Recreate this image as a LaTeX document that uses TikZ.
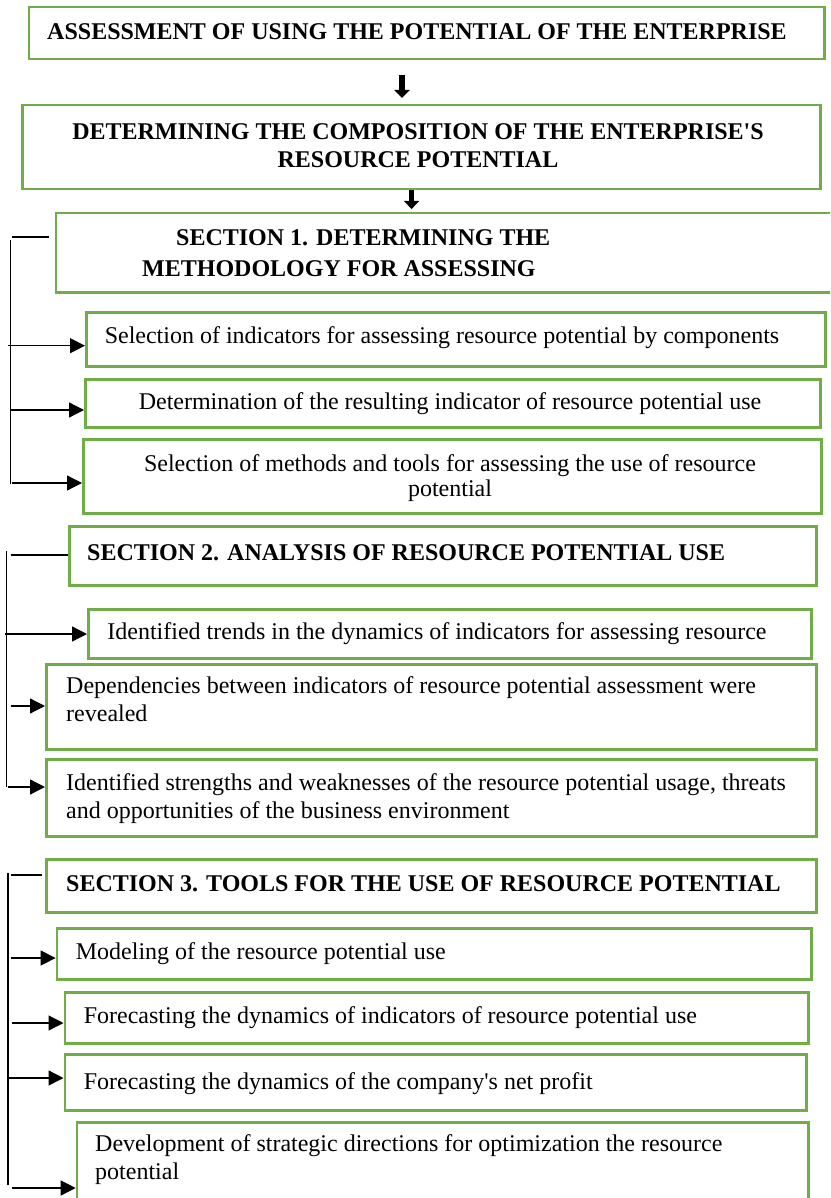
\documentclass[tikz,border=0pt]{standalone}
\usepackage{fontspec}
\setmainfont{Liberation Serif}
\usetikzlibrary{arrows.meta}
\definecolor{boxgreen}{HTML}{70AD47}
\begin{document}
\begin{tikzpicture}[x=1pt,y=-1pt,
  gbox/.style={draw=boxgreen,line width=2.5pt,anchor=north west,inner sep=0pt},
  txt/.style={inner sep=0pt,font=\fontsize{24}{27.5}\selectfont},
  head/.style={inner sep=0pt,font=\fontsize{24}{28}\selectfont\bfseries},
  harr/.style={-{Triangle[length=15pt,width=15pt]},line width=1.3pt},
  varr/.style={-{Triangle[length=8pt,width=15pt]},line width=5.5pt},
  brk/.style={line width=1.3pt}]
\useasboundingbox (0,0) rectangle (830,1198);
\clip (0,0) rectangle (830,1198);

% frames
\node[gbox,minimum width=795.5pt,minimum height=52pt] (a) at (27.5,6) {};
\node[gbox,minimum width=798pt,minimum height=84pt] (b) at (21,104) {};
\node[gbox,minimum width=790pt,minimum height=79pt] (s1) at (54.5,212) {};
\node[gbox,minimum width=739pt,minimum height=54pt] (s1a) at (85,311) {};
\node[gbox,minimum width=735pt,minimum height=48pt] (s1b) at (84,378) {};
\node[gbox,minimum width=738pt,minimum height=74pt] (s1c) at (82,438) {};
\node[gbox,minimum width=747pt,minimum height=59pt] (s2) at (68,525) {};
\node[gbox,minimum width=723pt,minimum height=49pt] (s2a) at (87,608) {};
\node[gbox,minimum width=770pt,minimum height=85pt] (s2b) at (45,663) {};
\node[gbox,minimum width=770pt,minimum height=77pt] (s2c) at (45,758) {};
\node[gbox,minimum width=770pt,minimum height=53pt] (s3) at (45,858) {};
\node[gbox,minimum width=754.4pt,minimum height=51pt] (s3a) at (55.6,927) {};
\node[gbox,minimum width=743.5pt,minimum height=51pt] (s3b) at (63.5,991) {};
\node[gbox,minimum width=741.5pt,minimum height=56pt] (s3c) at (63.5,1053) {};
\node[gbox,minimum width=731.3pt,minimum height=90pt] (s3d) at (75.7,1121) {};

% texts
\node[head,anchor=base] (ta) at (417,40) {ASSESSMENT OF USING THE POTENTIAL OF THE ENTERPRISE};
\node[head,anchor=base,align=center] (tb) at (418,168) {DETERMINING THE COMPOSITION OF THE ENTERPRISE\textquotesingle S\\RESOURCE POTENTIAL};
\node[head,anchor=base west,align=left] (ts1) at (142,276) {\hspace*{34pt}SECTION 1. DETERMINING THE\\[2pt]METHODOLOGY FOR ASSESSING};
\node[txt,anchor=base] (ts1a) at (442,343) {Selection of indicators for assessing resource potential by components};
\node[txt,anchor=base] (ts1b) at (450,409) {Determination of the resulting indicator of resource potential use};
\node[txt,anchor=base,align=center] (ts1c) at (450,496) {Selection of methods and tools for assessing the use of resource\\[-2.5pt]potential};
\node[head,anchor=base west] (ts2) at (87,560) {SECTION 2. ANALYSIS OF RESOURCE POTENTIAL USE};
\node[txt,anchor=base] (ts2a) at (437,639) {Identified trends in the dynamics of indicators for assessing resource};
\node[txt,anchor=base west,align=left] (ts2b) at (66,721) {Dependencies between indicators of resource potential assessment were\\revealed};
\node[txt,anchor=base west,align=left] (ts2c) at (66,818) {Identified strengths and weaknesses of the resource potential usage, threats\\and opportunities of the business environment};
\node[head,anchor=base west] (ts3) at (66,891) {SECTION 3. TOOLS FOR THE USE OF RESOURCE POTENTIAL};
\node[txt,anchor=base west] (ts3a) at (75.7,959) {Modeling of the resource potential use};
\node[txt,anchor=base west] (ts3b) at (83.6,1023) {Forecasting the dynamics of indicators of resource potential use};
\node[txt,anchor=base west] (ts3c) at (83.6,1089) {Forecasting the dynamics of the company\textquotesingle s net profit};
\node[txt,anchor=base west,align=left] (ts3d) at (95,1179) {Development of strategic directions for optimization the resource\\potential};

% vertical arrows between the top frames
\coordinate (xab) at (402,0);
\coordinate (xbs) at (411.6,0);
\draw[varr,shorten <=15pt,shorten >=6pt] (a.south -| xab) -- (b.north -| xab);
\draw[varr,shorten >=3pt] (b.south -| xbs) -- (s1.north -| xbs);

% section 1 bracket
\coordinate (k1a) at (12,237);  \coordinate (k1b) at (49,237);
\coordinate (v1t) at (10.5,240); \coordinate (v1b) at (10.5,484);
\draw[brk] (k1a) -- (k1b);
\draw[brk] (v1t) -- (v1b);
\coordinate (p1a) at (8,345.7);
\coordinate (p1b) at (9.5,410);
\coordinate (p1c) at (11.6,483);
\draw[harr] (p1a) -- (s1a.west |- p1a);
\draw[harr] (p1b) -- (s1b.west |- p1b);
\draw[harr] (p1c) -- (s1c.west |- p1c);

% section 2 bracket
\coordinate (k2a) at (10.6,555);
\coordinate (v2t) at (6.3,551); \coordinate (v2b) at (6.3,787);
\draw[brk] (k2a) -- (s2.west |- k2a);
\draw[brk] (v2t) -- (v2b);
\coordinate (p2a) at (5,634);
\coordinate (p2b) at (10.6,706);
\coordinate (p2c) at (8,787);
\draw[harr] (p2a) -- (s2a.west |- p2a);
\draw[harr] (p2b) -- (s2b.west |- p2b);
\draw[harr] (p2c) -- (s2c.west |- p2c);

% section 3 bracket
\coordinate (k3a) at (10.6,875); \coordinate (k3b) at (42,875);
\coordinate (v3t) at (8,873); \coordinate (v3b) at (8,1185);
\draw[brk] (k3a) -- (k3b);
\draw[brk] (v3t) -- (v3b);
\coordinate (p3a) at (10.6,958);
\coordinate (p3b) at (11.6,1023);
\coordinate (p3c) at (8,1078);
\coordinate (p3d) at (11.6,1188);
\draw[harr] (p3a) -- (s3a.west |- p3a);
\draw[harr] (p3b) -- (s3b.west |- p3b);
\draw[harr] (p3c) -- (s3c.west |- p3c);
\draw[harr] (p3d) -- (s3d.west |- p3d);
\end{tikzpicture}
\end{document}
